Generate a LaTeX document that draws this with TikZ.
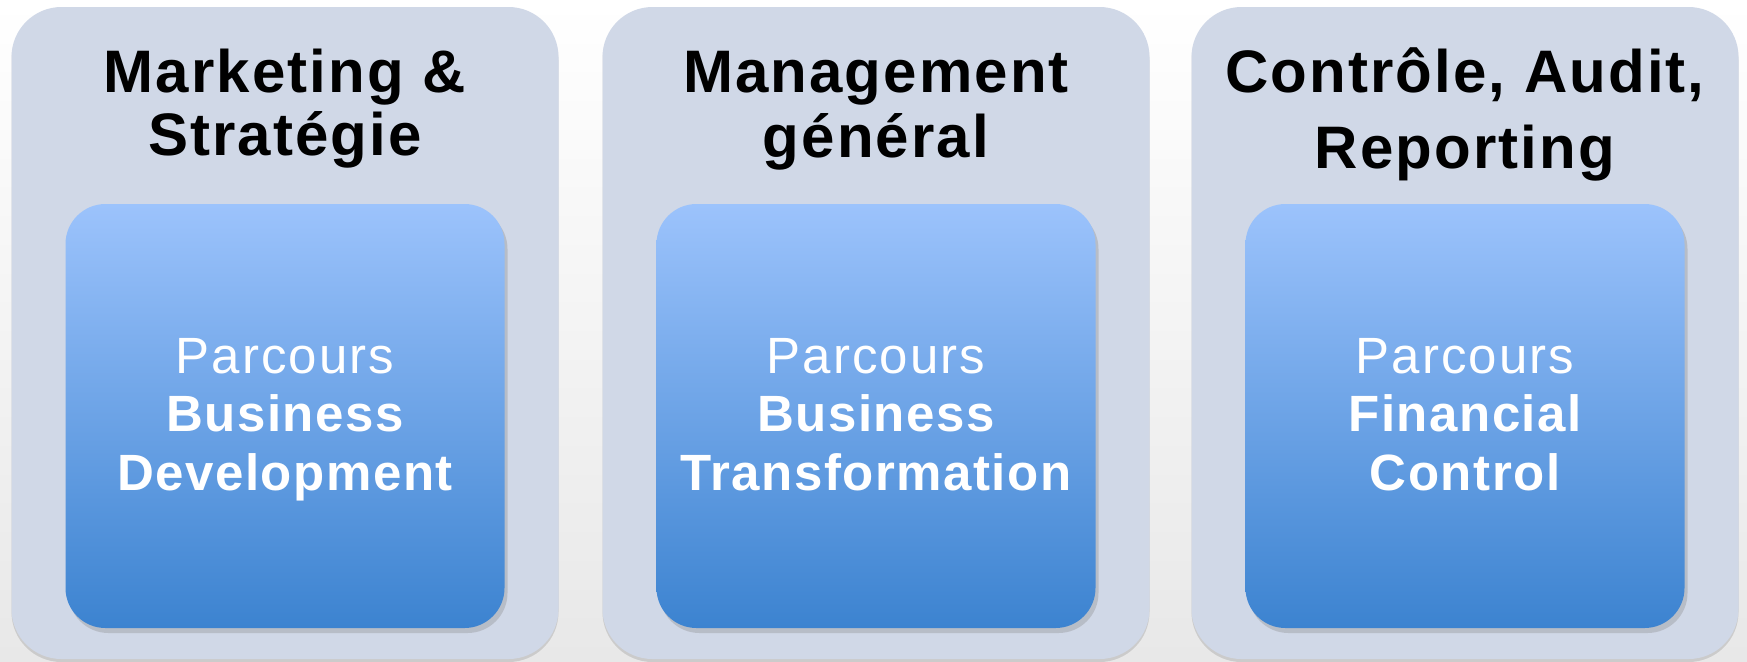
\documentclass[tikz,border=0pt]{standalone}
\usepackage{fontspec}
\setmainfont{Liberation Sans}
\newfontfamily\headfont[LetterSpace=3.5]{Liberation Sans}
\newfontfamily\trackfont[LetterSpace=3]{Liberation Sans}
\newfontfamily\introfont[LetterSpace=4]{Liberation Sans}
\usetikzlibrary{shadows}
\definecolor{panelgray}{HTML}{D0D8E7}
\definecolor{bluetop}{HTML}{9CC3FC}
\definecolor{bluebot}{HTML}{3C83D0}
\definecolor{bgbot}{HTML}{E8E8E8}
\tikzset{
  panel/.style={fill=panelgray, rounded corners=25pt, minimum width=273.5pt,
    minimum height=326pt, inner sep=0pt,
    general shadow={fill=black, opacity=0.12, shadow xshift=0pt, shadow yshift=-1.5pt}},
  track/.style={top color=bluetop, bottom color=bluebot, rounded corners=20pt,
    minimum width=219.5pt, minimum height=212pt, inner sep=0pt,
    drop shadow={shadow xshift=1.5pt, shadow yshift=-2.5pt, opacity=0.3}},
  paneltitle/.style={anchor=base, inner sep=0pt, text=black,
    font=\headfont\fontsize{30}{36}\selectfont\bfseries},
  trackintro/.style={anchor=base, inner sep=0pt, text=white,
    font=\introfont\fontsize{25.5}{30}\selectfont},
  trackname/.style={anchor=base, inner sep=0pt, text=white,
    font=\trackfont\fontsize{25.5}{30}\selectfont\bfseries},
}
\begin{document}
\begin{tikzpicture}[x=0.5pt, y=-0.5pt]
  \shade[top color=white, bottom color=bgbot] (0,0) rectangle (1747,661);
  \useasboundingbox (0,0) rectangle (1747,661);

  % Marketing & Strategie
  \node[panel] (panA) at (285,333) {};
  \node[track] (trkA) at (285,416) {};
  \node[paneltitle] (titA1) at (285,92) {Marketing \&};
  \node[paneltitle] (titA2) at (285,155) {Stratégie};
  \node[trackintro] (parA) at (285,373) {Parcours};
  \node[trackname] (namA1) at (285,431) {Business};
  \node[trackname] (namA2) at (285,490) {Development};

  % Management general
  \node[panel] (panB) at (876,333) {};
  \node[track] (trkB) at (876,416) {};
  \node[paneltitle] (titB1) at (876,92) {Management};
  \node[paneltitle] (titB2) at (876,157) {général};
  \node[trackintro] (parB) at (876,373) {Parcours};
  \node[trackname] (namB1) at (876,431) {Business};
  \node[trackname] (namB2) at (876,490) {Transformation};

  % Controle, Audit, Reporting
  \node[panel] (panC) at (1465,333) {};
  \node[track] (trkC) at (1465,416) {};
  \node[paneltitle] (titC1) at (1465,92) {Contrôle, Audit,};
  \node[paneltitle] (titC2) at (1465,168) {Reporting};
  \node[trackintro] (parC) at (1465,373) {Parcours};
  \node[trackname] (namC1) at (1465,431) {Financial};
  \node[trackname] (namC2) at (1465,490) {Control};
\end{tikzpicture}
\end{document}
